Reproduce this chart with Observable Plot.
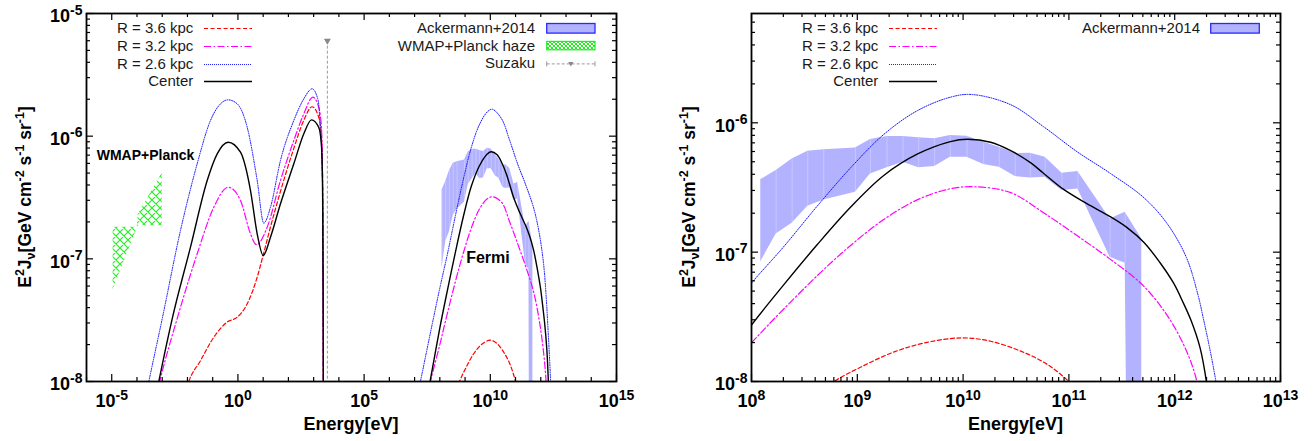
<!DOCTYPE html>
<html><head><meta charset="utf-8">
<script src="https://cdn.jsdelivr.net/npm/d3@7"></script>
<script src="https://cdn.jsdelivr.net/npm/@observablehq/plot@0.6"></script>
<style>
html,body{margin:0;padding:0;background:#fff;}
#wrap{display:flex;flex-direction:row;width:1313px;height:441px;overflow:hidden;}
#wrap svg{display:block;}
</style></head>
<body><div id="wrap"></div>
<script>
// ================= DATA (log10 values) =================
// Low-energy component (left panel only): log10(E/eV) and log10(E^2 J)
const redLowLogE     = [-2.1, -1.947, -1.48, -0.955, -0.43, -0.03, 0.367, 0.763, 1.0, 1.29, 1.686, 2.214, 2.61, 2.94, 3.2, 3.3, 3.34, 3.36, 3.375, 3.385];
const redLowLogY     = [-8.1, -8.0, -7.829, -7.639, -7.516, -7.476, -7.367, -7.15, -6.97, -6.74, -6.45, -6.10, -5.87, -5.76, -5.845, -5.98, -6.2, -6.5, -7.2, -8.3];
const magentaLowLogE = [-3.25, -3.10, -2.41, -1.614, -0.955, -0.386, 0.101, 0.498, 0.73, 1.16, 1.686, 2.214, 2.61, 2.97, 3.2, 3.3, 3.34, 3.36, 3.375, 3.385];
const magentaLowLogY = [-8.13, -8.0, -7.489, -6.959, -6.579, -6.416, -6.524, -6.796, -6.885, -6.742, -6.361, -6.035, -5.818, -5.682, -5.764, -5.9, -6.15, -6.5, -7.2, -8.3];
const blueLowLogE    = [-3.7, -3.53, -3.0, -2.276, -1.614, -1.087, -0.69, -0.386, -0.03, 0.367, 0.763, 1.025, 1.29, 1.686, 2.214, 2.61, 2.94, 3.18, 3.27, 3.33, 3.36, 3.38, 3.39];
const blueLowLogY    = [-8.17, -8.0, -7.489, -6.769, -6.225, -5.872, -5.736, -5.704, -5.736, -5.927, -6.361, -6.709, -6.579, -6.198, -5.872, -5.696, -5.614, -5.709, -5.954, -6.2, -6.6, -7.3, -8.3];
const centerLowLogE  = [-3.3, -3.135, -2.605, -1.88, -1.218, -0.822, -0.386, 0.101, 0.498, 0.763, 1.0, 1.29, 1.686, 2.214, 2.61, 2.915, 3.2, 3.3, 3.34, 3.36, 3.375, 3.385];
const centerLowLogY  = [-8.17, -8.0, -7.489, -6.905, -6.361, -6.144, -6.049, -6.131, -6.443, -6.796, -6.973, -6.824, -6.551, -6.225, -5.981, -5.867, -5.927, -6.05, -6.25, -6.6, -7.3, -8.3];

// High-energy component (both panels)
const redHighLogE     = [8.6, 8.78, 9.03, 9.34, 9.66, 9.99, 10.26, 10.57, 10.8, 11.0, 11.15];
const redHighLogY     = [-8.12, -8.0, -7.89, -7.774, -7.697, -7.663, -7.689, -7.774, -7.87, -8.0, -8.12];
const magentaHighLogE = [7.4, 7.63, 8.0, 8.21, 8.62, 8.94, 9.25, 9.57, 9.88, 10.10, 10.45, 10.76, 11.08, 11.39, 11.71, 11.96, 12.13, 12.21, 12.27];
const magentaHighLogY = [-8.24, -8.0, -7.70, -7.519, -7.183, -6.946, -6.748, -6.594, -6.510, -6.494, -6.54, -6.695, -6.874, -7.054, -7.265, -7.528, -7.80, -8.0, -8.25];
const blueHighLogE    = [7.0, 7.23, 7.6, 8.0, 8.3, 8.62, 8.94, 9.25, 9.57, 9.88, 10.08, 10.45, 10.76, 11.08, 11.39, 11.71, 11.93, 12.11, 12.22, 12.27, 12.33, 12.39, 12.44];
const blueHighLogY    = [-8.22, -8.0, -7.63, -7.238, -6.962, -6.645, -6.345, -6.09, -5.905, -5.802, -5.781, -5.86, -6.03, -6.225, -6.39, -6.58, -6.781, -7.04, -7.33, -7.51, -7.74, -8.0, -8.25];
const centerHighLogE  = [7.4, 7.63, 8.0, 8.3, 8.62, 8.94, 9.25, 9.57, 9.88, 10.04, 10.26, 10.45, 10.64, 10.76, 10.95, 11.17, 11.39, 11.55, 11.71, 11.86, 11.99, 12.08, 12.155, 12.24, 12.30, 12.34];
const centerHighLogY  = [-8.23, -7.98, -7.563, -7.257, -6.943, -6.649, -6.407, -6.241, -6.145, -6.127, -6.15, -6.215, -6.31, -6.39, -6.515, -6.625, -6.725, -6.81, -6.925, -7.08, -7.24, -7.39, -7.529, -7.74, -8.0, -8.25];

// Ackermann+2014 band (Fermi)
const ackLogE  = [8.085, 8.233, 8.384, 8.532, 8.683, 8.982, 9.124, 9.281, 9.432, 9.580, 9.731, 9.879, 10.037, 10.194, 10.342, 10.493, 10.635, 10.776, 10.934, 11.085, 11.390, 11.532, 11.689];
const ackLoLog = [-7.078, -6.859, -6.777, -6.645, -6.596, -6.537, -6.395, -6.348, -6.305, -6.348, -6.338, -6.266, -6.266, -6.323, -6.344, -6.416, -6.426, -6.421, -6.524, -6.511, -7.040, -7.086, -20];
const ackHiLog = [-6.441, -6.369, -6.279, -6.220, -6.209, -6.194, -6.129, -6.106, -6.106, -6.116, -6.124, -6.099, -6.104, -6.150, -6.189, -6.238, -6.235, -6.266, -6.390, -6.377, -6.743, -6.692, -6.898];

// WMAP+Planck haze band
const hazeLogE  = [-4.945, -3.99, -3.95, -3.0];
const hazeLoLog = [-7.25, -6.75, -6.73, -6.73];
const hazeHiLog = [-6.742, -6.742, -6.64, -6.30];

// Suzaku upper limit
const suzakuE  = [3.5e3];
const suzakuHi = [6e-6];
const suzakuLo = [1e-9];

// Annotations
const annotLabels = ["WMAP+Planck", "Fermi"];
const annotE = [2.18e-4, 8.07e9];
const annotY = [7.0e-7, 1.016e-7];

// Legend labels
const modelLabels = ["R = 3.6 kpc", "R = 3.2 kpc", "R = 2.6 kpc", "Center"];
const obsLabelsLeft = ["Ackermann+2014", "WMAP+Planck haze", "Suzaku"];
const obsLabelsRight = ["Ackermann+2014"];

// Axis tick exponents
const leftXMajorExp = [-5, 0, 5, 10, 15];
const leftXMinorExp = [-6, -4, -3, -2, -1, 1, 2, 3, 4, 6, 7, 8, 9, 11, 12, 13, 14];
const leftYMajorExp = [-8, -7, -6, -5];
const rightXMajorExp = [8, 9, 10, 11, 12, 13];
const rightYMajorExp = [-8, -7, -6];
const minorMult = [2, 3, 4, 5, 6, 7, 8, 9];
const xAxisTitle = "Energy[eV]";

// ================= BUILD =================
const H = 441, MT = 13, MB = 60;
const FONT = '"Liberation Sans", Arial, Helvetica, sans-serif';
const pts = (lx, ly) => lx.map((e, i) => ({E: 10 ** e, y: 10 ** ly[i]}));
const bnd = (lx, lo, hi) => lx.map((e, i) => ({E: 10 ** e, lo: 10 ** lo[i], hi: 10 ** hi[i]}));
const ack = bnd(ackLogE, ackLoLog, ackHiLog);
const haze = bnd(hazeLogE, hazeLoLog, hazeHiLog);
const suzaku = suzakuE.map((e, i) => ({E: e, lo: suzakuLo[i], hi: suzakuHi[i]}));
const annot = annotLabels.map((l, i) => ({label: l, E: annotE[i], y: annotY[i]}));

const STY = {
  red: {stroke: "#ff0000", strokeWidth: 1.2, strokeDasharray: "4,2.5"},
  magenta: {stroke: "#ff00ff", strokeWidth: 1.2, strokeDasharray: "7,2.5,1.5,2.5"},
  blue: {stroke: "#1010ff", strokeWidth: 1.0, strokeDasharray: "1,1.4"},
  black: {stroke: "#000000", strokeWidth: 1.4}
};
const curves = [
  {low: pts(redLowLogE, redLowLogY), high: pts(redHighLogE, redHighLogY), s: STY.red},
  {low: pts(magentaLowLogE, magentaLowLogY), high: pts(magentaHighLogE, magentaHighLogY), s: STY.magenta},
  {low: pts(blueLowLogE, blueLowLogY), high: pts(blueHighLogE, blueHighLogY), s: STY.blue},
  {low: pts(centerLowLogE, centerLowLogY), high: pts(centerHighLogE, centerHighLogY), s: STY.black}
];
const ACK_FILL = "#b2b2ff";
const pow = a => a.map(e => 10 ** e);
const minors = (a, b, maxV) => { const t = []; for (let k = a; k < b; k++) for (const m of minorMult) { const v = m * 10 ** k; if (v < maxV) t.push(v); } return t; };
const expFmt = d => String(Math.round(Math.log10(d)));

function panel(o) {
  const iw = o.width - o.ml - o.mr, ih = H - MT - MB;
  const marks = [];
  marks.push(Plot.areaY(ack, {x: "E", y1: "lo", y2: "hi", fill: ACK_FILL, clip: true}));
  marks.push(Plot.ruleX(ack, {x: "E", y1: "lo", y2: "hi", stroke: "#ffffff", strokeOpacity: 0.35, strokeWidth: 0.8, clip: true}));
  if (o.left) {
    marks.push(Plot.areaY(haze, {x: "E", y1: "lo", y2: "hi", fill: "url(#hatch)", clip: true}));
    marks.push(Plot.ruleX(suzaku, {x: "E", y1: "lo", y2: "hi", stroke: "#999999", strokeWidth: 1, strokeDasharray: "3,2", clip: true}));
    marks.push(Plot.dot(suzaku, {x: "E", y: "hi", symbol: "triangle", r: 2.6, fill: "#888888", stroke: "none", rotate: 180}));
  }
  for (const c of curves) {
    if (o.left) marks.push(Plot.line(c.low, {x: "E", y: "y", curve: "monotone-x", clip: true, ...c.s}));
    marks.push(Plot.line(c.high, {x: "E", y: "y", curve: "catmull-rom", clip: true, ...c.s}));
  }
  const TS = {stroke: "#000", strokeWidth: 1.2};
  marks.push(Plot.tickX(o.xMajor, {x: d => d, insetTop: ih - 7, ...TS}));
  marks.push(Plot.tickX(o.xMajor, {x: d => d, insetBottom: ih - 7, ...TS}));
  marks.push(Plot.tickX(o.xMinor, {x: d => d, insetTop: ih - 4, ...TS}));
  marks.push(Plot.tickX(o.xMinor, {x: d => d, insetBottom: ih - 4, ...TS}));
  marks.push(Plot.tickY(o.yMajor, {y: d => d, insetRight: iw - 7, ...TS}));
  marks.push(Plot.tickY(o.yMajor, {y: d => d, insetLeft: iw - 7, ...TS}));
  marks.push(Plot.tickY(o.yMinor, {y: d => d, insetRight: iw - 4, ...TS}));
  marks.push(Plot.tickY(o.yMinor, {y: d => d, insetLeft: iw - 4, ...TS}));
  marks.push(Plot.frame({stroke: "#000", strokeWidth: 1.8}));
  marks.push(Plot.axisX(o.xLabelTicks, {tickSize: 0, tickPadding: 13, tickFormat: expFmt, fontSize: 18, fontWeight: "bold", label: null}));
  marks.push(Plot.axisY(o.yMajor, {tickSize: 0, tickPadding: 4, tickFormat: expFmt, fontSize: 18, fontWeight: "bold", dy: 3, label: null}));
  if (o.left) {
    marks.push(Plot.text(annot.filter(d => d.label === "WMAP+Planck"), {x: "E", y: "y", text: "label", fontSize: 14, fontWeight: "bold", fill: "#000"}));
    marks.push(Plot.text(annot.filter(d => d.label === "Fermi"), {x: "E", y: "y", text: "label", fontSize: 16, fontWeight: "bold", fill: "#000"}));
  }
  const svg = Plot.plot({
    width: o.width, height: H, marginLeft: o.ml, marginRight: o.mr, marginTop: MT, marginBottom: MB,
    x: {type: "log", domain: o.xDomain, label: null},
    y: {type: "log", domain: o.yDomain, label: null},
    style: {fontFamily: FONT, background: "#fff", color: "#000"},
    marks
  });
  const s = d3.select(svg);
  const defs = s.insert("defs", ":first-child");
  if (o.left) {
    const p = defs.append("pattern").attr("id", "hatch").attr("patternUnits", "userSpaceOnUse").attr("width", 8).attr("height", 8);
    p.append("rect").attr("width", 8).attr("height", 8).attr("fill", "#fff");
    p.append("path").attr("d", "M0,0L8,8M8,0L0,8M-1,7L1,9M7,-1L9,1").attr("stroke", "#22ee22").attr("stroke-width", 1.1).attr("fill", "none");
    const p2 = defs.append("pattern").attr("id", "hatch2").attr("patternUnits", "userSpaceOnUse").attr("width", 4).attr("height", 4);
    p2.append("rect").attr("width", 4).attr("height", 4).attr("fill", "#fff");
    p2.append("path").attr("d", "M0,0L4,4M4,0L0,4").attr("stroke", "#22ee22").attr("stroke-width", 1).attr("fill", "none");
  }
  s.selectAll('g[aria-label="x-axis tick label"] text, g[aria-label="y-axis tick label"] text').each(function () {
    const t = d3.select(this); const e = t.text(); t.text(null);
    t.append("tspan").text("10");
    t.append("tspan").attr("font-size", 14).attr("dy", -7.5).text(e);
  });
  const yt = s.append("text").attr("transform", `translate(${o.ylx},${MT + ih / 2}) rotate(-90)`)
    .attr("text-anchor", "middle").attr("font-size", 17.5).attr("font-weight", "bold")
    .attr("font-family", FONT).style("white-space", "pre").attr("fill", "#000");
  const parts = [["E", 0], ["2", -7, 1], ["J", 7], ["ν", 4, 1], ["[GeV cm", -4], ["-2", -7, 1], [" s", 7], ["-1", -7, 1], [" sr", 7], ["-1", -7, 1], ["]", 7]];
  for (const [txt, dy, small] of parts) {
    const ts = yt.append("tspan").attr("dy", dy).text(txt);
    if (small) ts.attr("font-size", 12.5);
  }
  s.append("text").attr("x", o.ml + iw / 2).attr("y", 430).attr("text-anchor", "middle")
    .attr("font-size", 18).attr("font-weight", "bold").attr("font-family", FONT).attr("fill", "#000").text(xAxisTitle);
  const g = s.append("g").attr("font-family", FONT).attr("font-size", 15).attr("fill", "#1a1a1a");
  const modelStyles = [STY.red, STY.magenta, STY.blue, STY.black];
  modelLabels.forEach((lab, i) => {
    const yb = 33.3 + i * 17.6, yc = Math.round(yb - 5) + 0.5;
    g.append("text").attr("x", o.lg.te).attr("y", yb).attr("text-anchor", "end").text(lab);
    const st = modelStyles[i];
    const isDot = st === STY.blue;
    g.append("line").attr("x1", Math.round(o.lg.s0)).attr("x2", Math.round(o.lg.s1)).attr("y1", yc).attr("y2", yc)
      .attr("stroke", isDot ? "#2020ff" : st.stroke).attr("stroke-width", st.strokeWidth)
      .attr("stroke-dasharray", isDot ? "1,1" : (st.strokeDasharray || null))
      .attr("shape-rendering", isDot ? "crispEdges" : null);
  });
  const obs = o.left ? obsLabelsLeft : obsLabelsRight;
  obs.forEach((lab, i) => {
    const yb = 33.3 + i * 17.3, yc = yb - 5;
    g.append("text").attr("x", o.og.te).attr("y", yb).attr("text-anchor", "end").text(lab);
    if (lab === "Ackermann+2014") {
      g.append("rect").attr("x", o.og.s0).attr("y", yc - 4.8).attr("width", o.og.s1 - o.og.s0).attr("height", 9.6)
        .attr("fill", ACK_FILL).attr("stroke", "#2a2aff").attr("stroke-width", 1.3);
    } else if (lab === "WMAP+Planck haze") {
      g.append("rect").attr("x", o.og.s0).attr("y", yc - 4.2).attr("width", o.og.s1 - o.og.s0).attr("height", 8.4)
        .attr("fill", "url(#hatch2)").attr("stroke", "#22ee22").attr("stroke-width", 1.2);
    } else {
      const ym = yc + 1;
      g.append("line").attr("x1", o.og.s0).attr("x2", o.og.s1).attr("y1", ym).attr("y2", ym)
        .attr("stroke", "#999").attr("stroke-width", 1).attr("stroke-dasharray", "3,2");
      for (const xx of [o.og.s0, o.og.s1]) g.append("line").attr("x1", xx).attr("x2", xx).attr("y1", ym - 2.5).attr("y2", ym + 2.5).attr("stroke", "#999").attr("stroke-width", 1);
      const xm = (o.og.s0 + o.og.s1) / 2;
      g.append("path").attr("d", `M${xm - 2.6},${ym - 2}L${xm + 2.6},${ym - 2}L${xm},${ym + 2.5}Z`).attr("fill", "#888");
    }
  });
  return svg;
}

const wrap = document.getElementById("wrap");
wrap.appendChild(panel({
  left: true, width: 660, ml: 86, mr: 44,
  xDomain: [1e-6, 1e15], yDomain: [1e-8, 1e-5],
  xMajor: pow(leftXMajorExp), xLabelTicks: pow(leftXMajorExp), xMinor: pow(leftXMinorExp),
  yMajor: pow(leftYMajorExp), yMinor: minors(-8, -5, 1e-5),
  ylx: 31, lg: {te: 193.3, s0: 204, s1: 252.3}, og: {te: 535, s0: 546.7, s1: 595}
}));
wrap.appendChild(panel({
  left: false, width: 653, ml: 91, mr: 33,
  xDomain: [1e8, 1e13], yDomain: [1e-8, 7e-6],
  xMajor: pow(rightXMajorExp), xLabelTicks: pow(rightXMajorExp), xMinor: minors(8, 13, 1e13),
  yMajor: pow(rightYMajorExp), yMinor: minors(-8, -5, 7e-6),
  ylx: 35, lg: {te: 218.3, s0: 229.3, s1: 276.7}, og: {te: 540, s0: 550.7, s1: 599.3}
}));
</script></body></html>
